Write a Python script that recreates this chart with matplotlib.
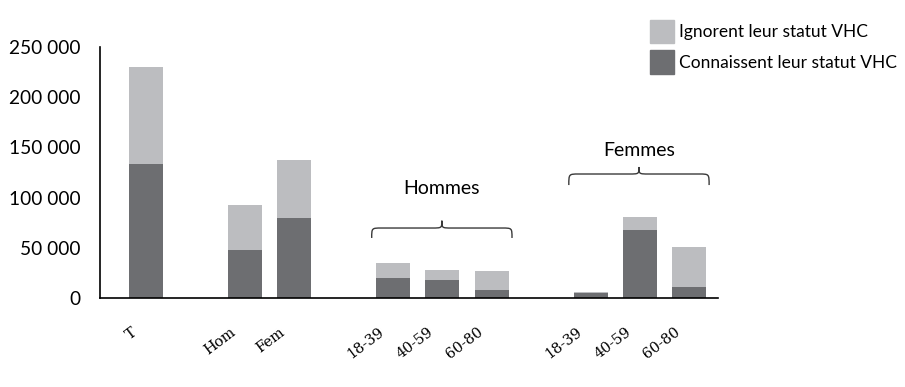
import matplotlib
matplotlib.use("Agg")
import matplotlib.pyplot as plt
from matplotlib.path import Path
from matplotlib.patches import PathPatch, Patch
import numpy as np

categories = ["T", "", "Hom", "Fem", "", "18-39", "40-59", "60-80", "", "18-39", "40-59", "60-80"]
connaissent = [133500, 0, 47800, 79700, 0, 20000, 18000, 8000, 0, 5000, 67700, 11000]
ignorent = [96500, 0, 44800, 57700, 0, 15000, 10000, 19000, 0, 500, 13000, 40000]
yticks = [0, 50000, 100000, 150000, 200000, 250000]
ytick_labels = ["0", "50 000", "100 000", "150 000", "200 000", "250 000"]
groups = ["Hommes", "Femmes"]

dark = "#6d6e71"
light = "#bcbdc0"

fig = plt.figure(figsize=(9.05, 3.87), dpi=100)
ax = fig.add_axes([100/905, 1-298/387, (718-100)/905, (298-47)/387])

x = np.arange(len(categories))
ax.bar(x, connaissent, width=0.69, color=dark)
ax.bar(x, ignorent, bottom=connaissent, width=0.69, color=light)

ax.set_xlim(-0.93, 11.58)
ax.set_ylim(0, 250000)
ax.set_yticks(yticks)
ax.set_yticklabels(ytick_labels, fontsize=13.8, family="Lato")
ax.tick_params(axis="y", length=0, pad=14)
ax.tick_params(axis="x", length=0, pad=0)
ax.set_xticks(x)
ax.set_xticklabels([])
for xi, lab in zip(x, categories):
    if lab:
        ax.text(xi - 0.3, -27000, lab, rotation=37, ha="right", va="top",
                rotation_mode="anchor", fontsize=10.5, family="DejaVu Serif",
                clip_on=False)
for s in ["top", "right"]:
    ax.spines[s].set_visible(False)
for s in ["left", "bottom"]:
    ax.spines[s].set_linewidth(1.2)
    ax.spines[s].set_color("black")


def brace(ax, x0, x1, y_end, y_line, y_peak):
    xm = (x0 + x1) / 2
    c = 0.2
    verts = [
        (x0, y_end),
        (x0, y_line), (x0, y_line), (x0 + c, y_line),
        (xm - c, y_line),
        (xm, y_line), (xm, y_line), (xm, y_peak),
        (xm, y_line), (xm, y_line), (xm + c, y_line),
        (x1 - c, y_line),
        (x1, y_line), (x1, y_line), (x1, y_end),
    ]
    codes = [Path.MOVETO,
             Path.CURVE4, Path.CURVE4, Path.CURVE4,
             Path.LINETO,
             Path.CURVE4, Path.CURVE4, Path.CURVE4,
             Path.CURVE4, Path.CURVE4, Path.CURVE4,
             Path.LINETO,
             Path.CURVE4, Path.CURVE4, Path.CURVE4]
    ax.add_patch(PathPatch(Path(verts, codes), fill=False, edgecolor="#3a3a3a",
                           linewidth=1.0, clip_on=False))


brace(ax, 4.57, 7.41, 59800, 69700, 77000)
brace(ax, 8.56, 11.40, 112500, 123500, 130500)
ax.text(5.99, 109500, groups[0], ha="center", va="center", fontsize=14, family="Lato")
ax.text(9.98, 147400, groups[1], ha="center", va="center", fontsize=14, family="Lato")

handles = [Patch(color=light), Patch(color=dark)]
fig.legend(handles, ["Ignorent leur statut VHC", "Connaissent leur statut VHC"],
           loc="upper left", bbox_to_anchor=(636/905, 1 - 6/387), frameon=False,
           prop={"family": "Lato", "size": 12.5}, handlelength=1.4, handleheight=1.7,
           handletextpad=0.3, labelspacing=0.4, borderpad=0.3)

fig.savefig("out.png", dpi=100)
